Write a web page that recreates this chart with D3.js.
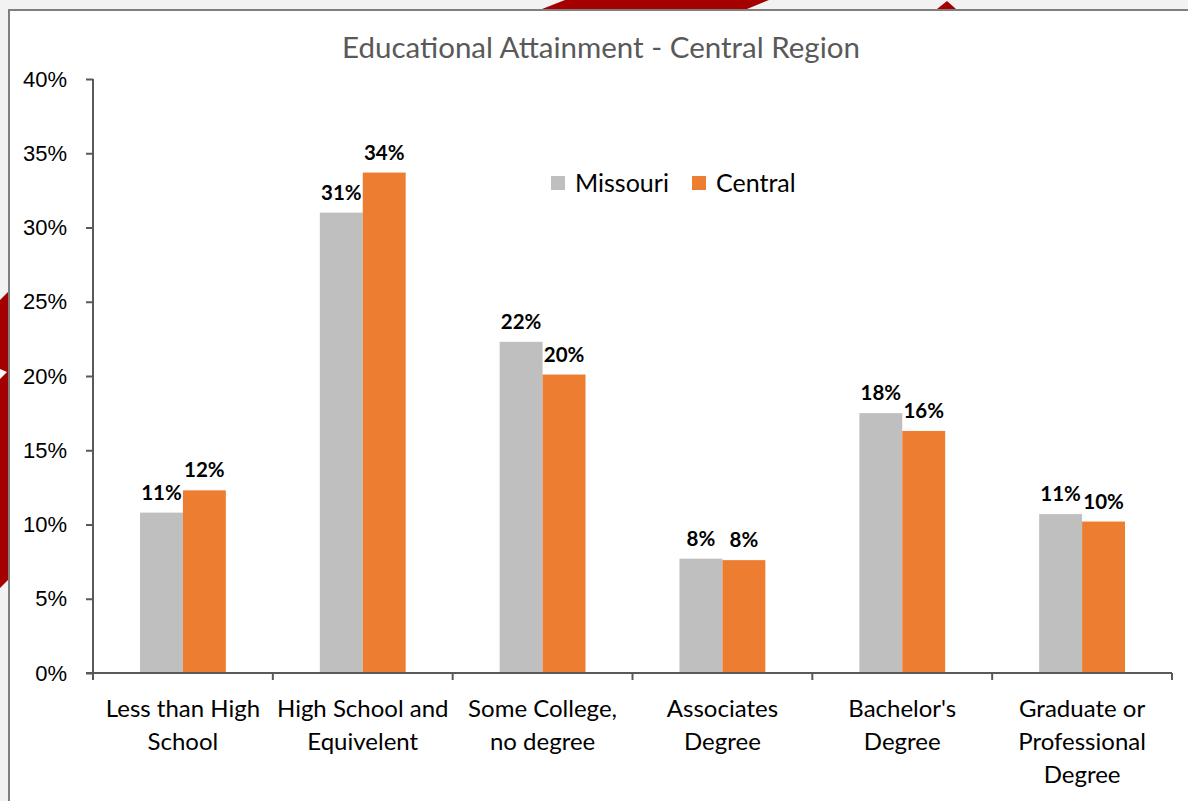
<!DOCTYPE html>
<html>
<head>
<meta charset="utf-8">
<script src="https://cdn.jsdelivr.net/npm/d3@7"></script>
<style>
  body { margin: 0; background: #f2f2f2; }
  svg { display: block; font-family: Lato, "Noto Sans", sans-serif; }
</style>
</head>
<body>
<div id="chart"></div>
<script>
// data
const categories = [
  ["Less than High", "School"],
  ["High School and", "Equivelent"],
  ["Some College,", "no degree"],
  ["Associates", "Degree"],
  ["Bachelor's", "Degree"],
  ["Graduate or", "Professional", "Degree"]
];
const series = ["Missouri", "Central"];
const missouri = [0.108, 0.310, 0.223, 0.077, 0.175, 0.107];
const central = [0.123, 0.337, 0.201, 0.076, 0.163, 0.102];
const yTicks = [0, 0.05, 0.10, 0.15, 0.20, 0.25, 0.30, 0.35, 0.40];
const colors = { Missouri: "#bfbfbf", Central: "#ed7d31" };

const width = 1188, height = 801;
const svg = d3.select("#chart").append("svg")
  .attr("width", width).attr("height", height);

// slide background bits
svg.append("rect").attr("width", width).attr("height", height).attr("fill", "#f2f2f2");
svg.append("path").attr("d", "M565,0 L769,0 L747,9 L542,9 Z").attr("fill", "#a50000");
svg.append("path").attr("d", "M937,9 L947,1 L956,9 Z").attr("fill", "#a50000");
svg.append("path").attr("d", "M0,300 L8,292 L8,580 L0,588 Z").attr("fill", "#a50000");
svg.append("path").attr("d", "M0,369 L7,372 L0,379 Z").attr("fill", "#ffffff");

// chart box
svg.append("rect")
  .attr("x", 9).attr("y", 10).attr("width", width).attr("height", height)
  .attr("fill", "#ffffff").attr("stroke", "#7f7f7f").attr("stroke-width", 2);

const keys = categories.map(c => c.join(" "));
const rows = keys.map((k, i) => ({ key: k, lines: categories[i], Missouri: missouri[i], Central: central[i] }));

const x0 = d3.scaleBand().domain(keys).range([93, 1172]).padding(0);
const bw = x0.bandwidth();
const barW = bw / (series.length + 2.19);
const x1 = d3.scaleBand().domain(series)
  .range([(bw - barW * series.length) / 2, (bw + barW * series.length) / 2]);
const y = d3.scaleLinear().domain([0, 0.4]).range([673, 79]);

// title
svg.append("text")
  .attr("x", 601).attr("y", 58)
  .attr("text-anchor", "middle")
  .attr("fill", "#595959")
  .style("font-size", "29.5px")
  .text("Educational Attainment - Central Region");

// bars
const groups = svg.append("g").selectAll("g")
  .data(rows).join("g")
  .attr("transform", d => `translate(${x0(d.key)},0)`);

groups.selectAll("rect")
  .data(d => series.map(s => ({ s, v: d[s] })))
  .join("rect")
  .attr("x", d => x1(d.s))
  .attr("width", x1.bandwidth())
  .attr("y", d => y(d.v))
  .attr("height", d => y(0) - y(d.v))
  .attr("fill", d => colors[d.s]);

groups.selectAll("text.lbl")
  .data(d => series.map(s => ({ s, v: d[s] })))
  .join("text")
  .attr("class", "lbl")
  .attr("x", d => x1(d.s) + x1.bandwidth() / 2)
  .attr("y", d => y(d.v) - 13)
  .attr("text-anchor", "middle")
  .style("font-size", "20.5px")
  .style("font-weight", "bold")
  .attr("fill", "#000")
  .text(d => d3.format(".0%")(d.v));

// y axis
const yAxis = svg.append("g")
  .attr("transform", "translate(93,0)")
  .call(d3.axisLeft(y).tickValues(yTicks).tickFormat(d3.format(".0%")).tickSize(7).tickPadding(19));
yAxis.select(".domain").attr("stroke", "#595959").attr("stroke-width", 2).attr("d", `M0,${y(0)}V${y(0.4)}`);
yAxis.selectAll(".tick line").attr("stroke", "#595959").attr("stroke-width", 2);
yAxis.selectAll(".tick text").style("font-size", "22px").attr("fill", "#000").attr("font-family", null);

// x axis
const xAxis = svg.append("g");
xAxis.append("line")
  .attr("x1", 86).attr("x2", 1172)
  .attr("y1", y(0)).attr("y2", y(0))
  .attr("stroke", "#595959").attr("stroke-width", 2);
const bounds = keys.map(k => x0(k)).concat([x0(keys[keys.length - 1]) + bw]);
xAxis.selectAll("line.tk")
  .data(bounds).join("line")
  .attr("class", "tk")
  .attr("x1", d => d).attr("x2", d => d)
  .attr("y1", y(0)).attr("y2", y(0) + 7)
  .attr("stroke", "#595959").attr("stroke-width", 2);

const xl = xAxis.selectAll("text.xl")
  .data(rows).join("text")
  .attr("class", "xl")
  .attr("text-anchor", "middle")
  .style("font-size", "24px")
  .attr("fill", "#000");
xl.selectAll("tspan")
  .data(d => d.lines.map(l => ({ l, c: x0(d.key) + bw / 2 })))
  .join("tspan")
  .attr("x", d => d.c)
  .attr("y", (d, i) => 717 + i * 33)
  .text(d => d.l);

// legend
const legend = svg.append("g").attr("transform", "translate(551,176)");
const li = legend.selectAll("g").data(series).join("g")
  .attr("transform", (d, i) => `translate(${i * 141},0)`);
li.append("rect").attr("width", 14).attr("height", 14).attr("fill", d => colors[d]);
li.append("text").attr("x", 24).attr("y", 16)
  .style("font-size", "25px").attr("fill", "#000").text(d => d);
</script>
</body>
</html>
